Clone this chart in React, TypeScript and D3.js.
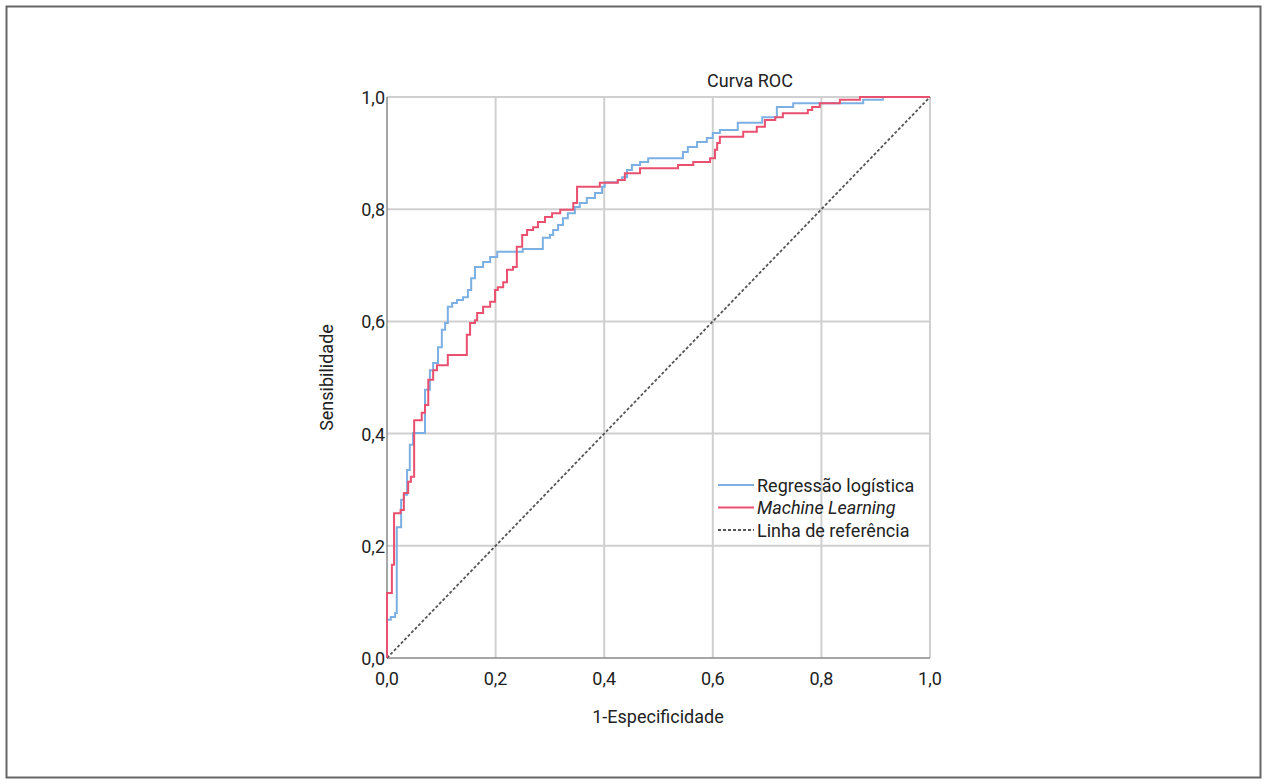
import React from 'react';
import * as d3 from 'd3';

// ROC curve breakpoints: [1-especificidade, sensibilidade]
const regressao: [number, number][] = [
  [0, 0], [0, 0.068], [0.007, 0.073], [0.015, 0.08], [0.018, 0.233], [0.026, 0.282],
  [0.031, 0.291], [0.037, 0.335], [0.042, 0.38], [0.048, 0.401], [0.07, 0.478],
  [0.079, 0.513], [0.085, 0.526], [0.094, 0.554], [0.101, 0.585], [0.107, 0.597],
  [0.112, 0.626], [0.12, 0.633], [0.129, 0.638], [0.14, 0.643], [0.149, 0.656],
  [0.155, 0.677], [0.162, 0.697], [0.177, 0.706], [0.19, 0.715], [0.203, 0.724],
  [0.25, 0.729], [0.287, 0.749], [0.3, 0.754], [0.306, 0.763], [0.315, 0.772],
  [0.324, 0.784], [0.333, 0.793], [0.346, 0.804], [0.355, 0.811], [0.368, 0.82],
  [0.383, 0.829], [0.396, 0.84], [0.401, 0.848], [0.425, 0.852], [0.433, 0.857],
  [0.442, 0.87], [0.451, 0.879], [0.466, 0.884], [0.481, 0.891], [0.545, 0.902],
  [0.554, 0.911], [0.571, 0.92], [0.589, 0.927], [0.6, 0.936], [0.613, 0.941],
  [0.646, 0.954], [0.691, 0.964], [0.718, 0.982], [0.748, 0.989], [0.877, 0.995],
  [0.913, 1], [1, 1],
];

const machineLearning: [number, number][] = [
  [0, 0], [0, 0.116], [0.009, 0.166], [0.013, 0.258], [0.025, 0.264], [0.031, 0.294],
  [0.039, 0.314], [0.044, 0.323], [0.05, 0.424], [0.064, 0.437], [0.07, 0.451],
  [0.076, 0.496], [0.085, 0.513], [0.092, 0.522], [0.112, 0.54], [0.147, 0.576],
  [0.153, 0.597], [0.162, 0.602], [0.166, 0.615], [0.177, 0.626], [0.19, 0.635],
  [0.199, 0.656], [0.204, 0.661], [0.214, 0.67], [0.221, 0.692], [0.232, 0.697],
  [0.239, 0.733], [0.249, 0.754], [0.258, 0.763], [0.269, 0.768], [0.278, 0.777],
  [0.291, 0.786], [0.304, 0.793], [0.319, 0.799], [0.343, 0.811], [0.35, 0.84],
  [0.392, 0.847], [0.425, 0.852], [0.438, 0.864], [0.466, 0.873], [0.536, 0.879],
  [0.564, 0.884], [0.595, 0.891], [0.604, 0.906], [0.608, 0.918], [0.613, 0.929],
  [0.656, 0.938], [0.681, 0.947], [0.696, 0.959], [0.715, 0.964], [0.729, 0.971],
  [0.775, 0.977], [0.783, 0.982], [0.797, 0.989], [0.834, 0.995], [0.871, 1], [1, 1],
];

const referencia: [number, number][] = [[0, 0], [1, 1]];

const ticks = [0, 0.2, 0.4, 0.6, 0.8, 1.0];
const tickLabels = ['0,0', '0,2', '0,4', '0,6', '0,8', '1,0'];

const legend = [
  { label: 'Regressão logística', color: '#7cb0e2', dash: '', italic: false },
  { label: 'Machine Learning', color: '#e9506f', dash: '', italic: true },
  { label: 'Linha de referência', color: '#555', dash: '3,2', italic: false },
];

const FONT = 'Roboto, "Liberation Sans", sans-serif';
const FS = 18;

export default function App() {
  const W = 1267, H = 784;
  const x = d3.scaleLinear().domain([0, 1]).range([387, 930]);
  const y = d3.scaleLinear().domain([0, 1]).range([658, 97]);

  const step = d3.line<[number, number]>()
    .x(d => x(d[0]))
    .y(d => y(d[1]))
    .curve(d3.curveStepAfter);
  const straight = d3.line<[number, number]>().x(d => x(d[0])).y(d => y(d[1]));

  return (
    <svg width={W} height={H} style={{ position: 'absolute', left: 0, top: 0 }} fontFamily={FONT}>
      <rect x={0} y={0} width={W} height={H} fill="#fff" />
      <rect x={6.5} y={6.5} width={1254} height={771} fill="none" stroke="#666" strokeWidth={2} />

      {/* grid */}
      {ticks.filter(t => t > 0).map(t => (
        <g key={'g' + t}>
          <line x1={x(t)} x2={x(t)} y1={y(0)} y2={y(1)} stroke="#d0d0d0" strokeWidth={2} />
          <line x1={x(0)} x2={x(1)} y1={y(t)} y2={y(t)} stroke="#d0d0d0" strokeWidth={2} />
        </g>
      ))}

      {/* axes */}
      <line x1={x(0)} x2={x(0)} y1={y(0)} y2={y(1)} stroke="#888" strokeWidth={1.5} />
      <line x1={x(0)} x2={x(1)} y1={y(0)} y2={y(0)} stroke="#888" strokeWidth={1.5} />

      {ticks.map((t, i) => (
        <g key={'t' + t}>
          <text x={x(t)} y={y(0) + 27} textAnchor="middle" fontSize={FS} fill="#222">{tickLabels[i]}</text>
          <text x={x(0) - 2} y={y(t) + 7} textAnchor="end" fontSize={FS} fill="#222">{tickLabels[i]}</text>
        </g>
      ))}

      {/* curves */}
      <path d={straight(referencia) || ''} fill="none" stroke="#555" strokeWidth={1.8} strokeDasharray="3,2" />
      <path d={step(regressao) || ''} fill="none" stroke={legend[0].color} strokeWidth={2} />
      <path d={step(machineLearning) || ''} fill="none" stroke={legend[1].color} strokeWidth={2} />

      {/* titles */}
      <text x={750} y={87} textAnchor="middle" fontSize={FS} fill="#222">Curva ROC</text>
      <text x={658} y={723} textAnchor="middle" fontSize={FS} fill="#222">1-Especificidade</text>
      <text transform={`translate(333,${(y(0) + y(1)) / 2}) rotate(-90)`} textAnchor="middle" fontSize={FS} fill="#222">Sensibilidade</text>

      {/* legend */}
      {legend.map((l, i) => (
        <g key={l.label} transform={`translate(718,${485 + i * 22.5})`}>
          <line x1={0} x2={36} y1={0} y2={0} stroke={l.color} strokeWidth={l.dash ? 1.8 : 2} strokeDasharray={l.dash || undefined} />
          <text x={39} y={6.5} fontSize={FS} fill="#222" fontStyle={l.italic ? 'italic' : 'normal'}>{l.label}</text>
        </g>
      ))}
    </svg>
  );
}
